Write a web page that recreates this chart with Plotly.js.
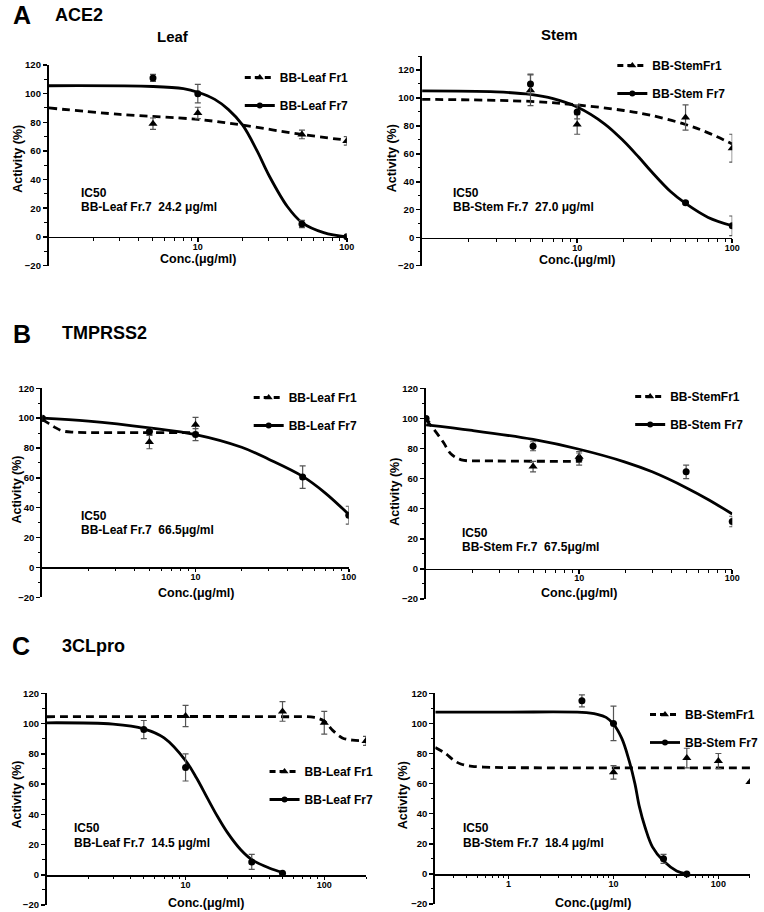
<!DOCTYPE html>
<html>
<head>
<meta charset="utf-8">
<script src="https://cdn.plot.ly/plotly-3.0.1.min.js"></script>
<style>
  body { margin: 0; background: #fff; }
  #chart { width: 764px; height: 912px; }
</style>
</head>
<body>
<div id="chart"></div>
<script>
// ---- values ----
const leafNames = ["BB-Leaf Fr1", "BB-Leaf Fr7"];
const stemNames = ["BB-StemFr1", "BB-Stem Fr7"];
const xTitle = "Conc.(μg/ml)";
const yTitle = "Activity (%)";

// A  ACE2 - Leaf
const aLeafX = [5, 10, 50, 100];
const aLeafFr1 = [79, 86.5, 71.5, 67];
const aLeafFr1Err = [4, 4, 3, 3];
const aLeafFr7 = [111, 100, 9, 0];
const aLeafFr7Err = [2.5, 6.5, 2.5, 0];
const aLeafFit1X = [1, 3, 10, 20, 50, 100];
const aLeafFit1Y = [90, 85.5, 82, 78, 71.5, 67.5];
const aLeafFit7X = [1, 5, 8, 10, 13, 16, 20, 25, 30, 40, 50, 70, 100];
const aLeafFit7Y = [105.5, 105, 103.5, 101, 96, 89, 78, 60, 43, 21, 10, 3, 0];
const aLeafIc50 = ["IC50", "BB-Leaf Fr.7\u00a0\u00a024.2 μg/ml"];

// A  ACE2 - Stem
const aStemX = [5, 10, 50, 100];
const aStemFr1 = [105.5, 81, 86, 64];
const aStemFr1Err = [11, 7, 9, 10];
const aStemFr7 = [110, 90, 25, 8.5];
const aStemFr7Err = [7, 5, 1, 7];
const aStemFit1X = [1, 5, 10, 20, 30, 50, 70, 100];
const aStemFit1Y = [99, 97.5, 95, 91, 87.5, 81, 75, 67];
const aStemFit7X = [1, 3, 5, 7, 10, 15, 20, 25, 30, 40, 50, 70, 100];
const aStemFit7Y = [105, 104.3, 102.5, 99.5, 93.5, 81.5, 69, 57.5, 47.5, 33, 24.5, 14.5, 8.5];
const aStemIc50 = ["IC50", "BB-Stem Fr.7\u00a0\u00a027.0 μg/ml"];

// B  TMPRSS2 - Leaf
const bLeafFr1X = [1, 5, 10];
const bLeafFr1 = [99, 84, 95.5];
const bLeafFr1Err = [1, 4.5, 5];
const bLeafFr7X = [1, 5, 10, 50, 100];
const bLeafFr7 = [100, 91, 89, 60.5, 35];
const bLeafFr7Err = [1, 2, 4, 7.5, 6];
const bLeafFit1X = [1, 1.1, 1.2, 1.35, 1.6, 2.5, 10];
const bLeafFit1Y = [99, 96.5, 94, 91.5, 90.6, 90.3, 90.3];
const bLeafFit7X = [1, 2, 5, 10, 20, 30, 50, 70, 100];
const bLeafFit7Y = [100, 98, 93.5, 89, 80.5, 72.5, 61, 50, 35.5];
const bLeafIc50 = ["IC50", "BB-Leaf Fr.7\u00a0\u00a066.5μg/ml"];

// B  TMPRSS2 - Stem
const bStemFr1X = [1, 5, 10];
const bStemFr1 = [99, 68, 74.5];
const bStemFr1Err = [1, 3.5, 3.5];
const bStemFr7X = [1, 5, 10, 50, 100];
const bStemFr7 = [100, 81.5, 73, 64.5, 31.5];
const bStemFr7Err = [1, 3, 4, 4.5, 3.5];
const bStemFit1X = [1, 1.12, 1.3, 1.45, 1.7, 2.5, 10];
const bStemFit1Y = [99, 93, 84, 76.5, 72.5, 71.8, 71.5];
const bStemFit7X = [1, 2, 5, 10, 20, 30, 50, 70, 100];
const bStemFit7Y = [95.7, 92, 86, 79.5, 71, 64.5, 54, 46, 36.5];
const bStemIc50 = ["IC50", "BB-Stem Fr.7\u00a0\u00a067.5μg/ml"];

// C  3CLpro - Leaf
const cLeafFr1X = [10, 50, 100, 200];
const cLeafFr1 = [105, 108, 100.5, 88.5];
const cLeafFr1Err = [7, 6.5, 7.5, 3];
const cLeafFr7X = [5, 10, 30, 50];
const cLeafFr7 = [96, 71, 8.5, 1];
const cLeafFr7Err = [6, 9, 5, 0.5];
const cLeafFit1X = [1, 50, 85, 100, 115, 135, 160, 200];
const cLeafFit1Y = [104.5, 104.5, 104, 101.5, 95.5, 90.5, 89, 88.5];
const cLeafFit7X = [1, 3, 5, 7, 10, 12, 14.5, 17, 20, 25, 30, 40, 50];
const cLeafFit7Y = [100.5, 99.6, 96.5, 90.5, 75.5, 64, 50, 38.5, 28, 16.5, 10, 4.5, 1.5];
const cLeafIc50 = ["IC50", "BB-Leaf Fr.7\u00a0\u00a014.5 μg/ml"];

// C  3CLpro - Stem
const cStemFr1X = [10, 50, 100, 200];
const cStemFr1 = [67.5, 77, 75, 61];
const cStemFr1Err = [4.5, 6.5, 5, 0];
const cStemFr7X = [5, 10, 30, 50];
const cStemFr7 = [115, 100, 10, 0];
const cStemFr7Err = [4, 11.5, 3, 0];
const cStemFit1X = [0.2, 0.25, 0.3, 0.35, 0.45, 0.7, 1, 200];
const cStemFit1Y = [84, 80, 75.5, 73, 71.5, 70.8, 70.6, 70.5];
const cStemFit7X = [0.2, 1, 5, 7, 8.5, 10, 12, 14, 16, 17.6, 20, 23.5, 30, 40, 50];
const cStemFit7Y = [107.5, 107.5, 107.3, 106, 104, 99.5, 90, 76, 60, 45, 31, 18, 8.5, 2, 0];
const cStemIc50 = ["IC50", "BB-Stem Fr.7\u00a0\u00a018.4 μg/ml"];

// tick positions / labels
const majorTicks = [10, 100];
const majorTicksC = [1, 10, 100];
const minorTicks = [2, 3, 4, 5, 6, 7, 8, 9, 20, 30, 40, 50, 60, 70, 80, 90];
const minorTicks200 = minorTicks.concat([200]);
const minorTicksWide = [0.3, 0.4, 0.5, 0.6, 0.7, 0.8, 0.9].concat(minorTicks200);

// ---- layout helpers (pixel positions from the 764x912 figure) ----
const W = 764, H = 912;
const fx = (p) => p / W;
const fy = (p) => 1 - p / H;
const FONT = "Liberation Sans, Arial, sans-serif";
const bold = (size) => ({ family: FONT, size: size, color: "#000", weight: "bold" });

const panels = [
  { fr1X: aLeafX, fr1: aLeafFr1, fr1Err: aLeafFr1Err, fr7X: aLeafX, fr7: aLeafFr7, fr7Err: aLeafFr7Err,
    fit1X: aLeafFit1X, fit1Y: aLeafFit1Y, fit7X: aLeafFit7X, fit7Y: aLeafFit7Y, names: leafNames, ic50: aLeafIc50,
    xPx: [49.3, 350], yPx: [265.5, 65], yr: [-20, 120], xr: [0, 2], zeroPx: 236.7,
    ticks: majorTicks, minor: minorTicks, leg: [242, 63], ic: [80, 193, 207], xt: 259, yt: [18, 159] },
  { fr1X: aStemX, fr1: aStemFr1, fr1Err: aStemFr1Err, fr7X: aStemX, fr7: aStemFr7, fr7Err: aStemFr7Err,
    fit1X: aStemFit1X, fit1Y: aStemFit1Y, fit7X: aStemFit7X, fit7Y: aStemFit7Y, names: stemNames, ic50: aStemIc50,
    xPx: [426, 739], yPx: [265.6, 56], yr: [-20, 130], xr: [0, 2], zeroPx: 237.7,
    ticks: majorTicks, minor: minorTicks, leg: [618, 51], ic: [455, 193, 207], xt: 259.5, yt: [395.3, 158.5] },
  { fr1X: bLeafFr1X, fr1: bLeafFr1, fr1Err: bLeafFr1Err, fr7X: bLeafFr7X, fr7: bLeafFr7, fr7Err: bLeafFr7Err,
    fit1X: bLeafFit1X, fit1Y: bLeafFit1Y, fit7X: bLeafFit7X, fit7Y: bLeafFit7Y, names: leafNames, ic50: bLeafIc50,
    xPx: [42.7, 352], yPx: [597.3, 388.3], yr: [-20, 120], xr: [0, 2], zeroPx: 567.3,
    ticks: majorTicks, minor: minorTicks, leg: [251, 383], ic: [80, 516, 530], xt: 593, yt: [16.7, 490] },
  { fr1X: bStemFr1X, fr1: bStemFr1, fr1Err: bStemFr1Err, fr7X: bStemFr7X, fr7: bStemFr7, fr7Err: bStemFr7Err,
    fit1X: bStemFit1X, fit1Y: bStemFit1Y, fit7X: bStemFit7X, fit7Y: bStemFit7Y, names: stemNames, ic50: bStemIc50,
    xPx: [430, 739], yPx: [599, 388.3], yr: [-20, 120], xr: [0, 2], zeroPx: 568.5,
    ticks: majorTicks, minor: minorTicks, leg: [636, 382], ic: [464, 533, 547], xt: 593.3, yt: [398.7, 491.7] },
  { fr1X: cLeafFr1X, fr1: cLeafFr1, fr1Err: cLeafFr1Err, fr7X: cLeafFr7X, fr7: cLeafFr7, fr7Err: cLeafFr7Err,
    fit1X: cLeafFit1X, fit1Y: cLeafFit1Y, fit7X: cLeafFit7X, fit7Y: cLeafFit7Y, names: leafNames, ic50: cLeafIc50,
    xPx: [47.3, 369.4], yPx: [905, 693.3], yr: [-20, 120], xr: [0, Math.log10(200)], zeroPx: 875,
    ticks: majorTicks, minor: minorTicks200, leg: [267, 757], ic: [73, 828, 843], xt: 903.3, yt: [16.7, 795] },
  { fr1X: cStemFr1X, fr1: cStemFr1, fr1Err: cStemFr1Err, fr7X: cStemFr7X, fr7: cStemFr7, fr7Err: cStemFr7Err,
    fit1X: cStemFit1X, fit1Y: cStemFit1Y, fit7X: cStemFit7X, fit7Y: cStemFit7Y, names: stemNames, ic50: cStemIc50,
    xPx: [439.3, 756.9], yPx: [904, 693.3], yr: [-20, 120], xr: [Math.log10(0.2), Math.log10(200)], zeroPx: 874,
    ticks: majorTicksC, minor: minorTicksWide, leg: [651, 700], ic: [465, 828, 843], xt: 903.3, yt: [407, 795] }
];

var data = [];
var layout = {
  width: W, height: H,
  margin: { l: 0, r: 0, t: 0, b: 0 },
  paper_bgcolor: "#fff", plot_bgcolor: "rgba(0,0,0,0)",
  font: { family: FONT, color: "#000" },
  showlegend: true,
  annotations: []
};

function note(text, x, y, size, anchor, angle) {
  layout.annotations.push({
    text: text, xref: "paper", yref: "paper", x: fx(x), y: fy(y),
    xanchor: anchor || "left", yanchor: "middle", showarrow: false, font: bold(size),
    textangle: angle || 0
  });
}

panels.forEach((p, i) => {
  const sfx = i === 0 ? "" : String(i + 1);
  const xa = "x" + sfx, ya = "y" + sfx, lg = "legend" + sfx;
  const dashLine = { color: "#000", width: 2.8, dash: "8px,5px", shape: "spline", smoothing: 1 };
  const solidLine = { color: "#000", width: 2.8, shape: "spline", smoothing: 1 };
  const err = (arr) => ({ type: "data", array: arr, visible: true, color: "#555", thickness: 1.2, width: 3 });

  data.push({ x: p.fit1X, y: p.fit1Y, xaxis: xa, yaxis: ya, mode: "lines", line: dashLine,
    showlegend: false, hoverinfo: "skip" });
  data.push({ x: p.fit7X, y: p.fit7Y, xaxis: xa, yaxis: ya, mode: "lines", line: solidLine,
    showlegend: false, hoverinfo: "skip" });
  data.push({ x: p.fr1X, y: p.fr1, xaxis: xa, yaxis: ya, mode: "markers", error_y: err(p.fr1Err),
    marker: { symbol: "triangle-up", size: 8, color: "#000" }, showlegend: false });
  data.push({ x: p.fr7X, y: p.fr7, xaxis: xa, yaxis: ya, mode: "markers", error_y: err(p.fr7Err),
    marker: { symbol: "circle", size: 7, color: "#000" }, showlegend: false });
  // legend keys (line + symbol, like the original)
  data.push({ x: [null], y: [null], xaxis: xa, yaxis: ya, mode: "lines+markers", name: p.names[0],
    legend: lg, legendgroup: "g1" + sfx, line: { color: "#000", width: 2.8, dash: "6px,4px" },
    marker: { symbol: "triangle-up", size: 7, color: "#000" } });
  data.push({ x: [null], y: [null], xaxis: xa, yaxis: ya, mode: "lines+markers", name: p.names[1],
    legend: lg, legendgroup: "g7" + sfx, line: { color: "#000", width: 2.8 },
    marker: { symbol: "circle", size: 6, color: "#000" } });

  layout["xaxis" + sfx] = {
    type: "log", range: p.xr, domain: [fx(p.xPx[0]), fx(p.xPx[1])],
    anchor: "free", position: fy(p.zeroPx),
    showline: true, linecolor: "#000", linewidth: 1.5, showgrid: false, zeroline: false,
    tickmode: "array", tickvals: p.ticks, ticks: "outside", ticklen: 3.5, tickwidth: 1.5, tickcolor: "#000",
    tickfont: bold(9), ticklabelstandoff: -3,
    minor: { tickmode: "array", tickvals: p.minor, ticks: "outside", ticklen: 2.5, tickwidth: 1, tickcolor: "#000", showgrid: false },
    fixedrange: true
  };
  layout["yaxis" + sfx] = {
    range: p.yr, domain: [fy(p.yPx[0]), fy(p.yPx[1])], anchor: xa,
    showline: true, linecolor: "#000", linewidth: 2, showgrid: false, zeroline: false,
    tick0: 0, dtick: 20, ticks: "outside", ticklen: 4, tickwidth: 1.5, tickcolor: "#000",
    tickfont: bold(9.5),
    minor: { dtick: 10, ticks: "outside", ticklen: 2.5, tickwidth: 1, tickcolor: "#000", showgrid: false },
    fixedrange: true
  };
  layout[lg] = {
    x: fx(p.leg[0]), y: fy(p.leg[1]), xanchor: "left", yanchor: "top",
    bgcolor: "rgba(0,0,0,0)", font: bold(12), tracegroupgap: 9, itemwidth: 30, traceorder: "grouped"
  };
  // axis titles placed where the original has them
  note(xTitle, (p.xPx[0] + p.xPx[1]) / 2, p.xt, 12.5, "center");
  note(yTitle, p.yt[0], p.yt[1], 12.5, "center", -90);
  note(p.ic50[0], p.ic[0], p.ic[1], 12);
  note(p.ic50[1], p.ic[0], p.ic[2], 12);
});

// panel letters, assay names and column titles
note("A", 11, 15, 25);
note("ACE2", 53, 15, 18);
note("Leaf", 175, 36, 15, "center");
note("Stem", 565, 35, 15, "center");
note("B", 11, 334, 25);
note("TMPRSS2", 61, 333, 18);
note("C", 10, 646, 25);
note("3CLpro", 61, 646, 18);

Plotly.newPlot("chart", data, layout, { staticPlot: true });
</script>
</body>
</html>
